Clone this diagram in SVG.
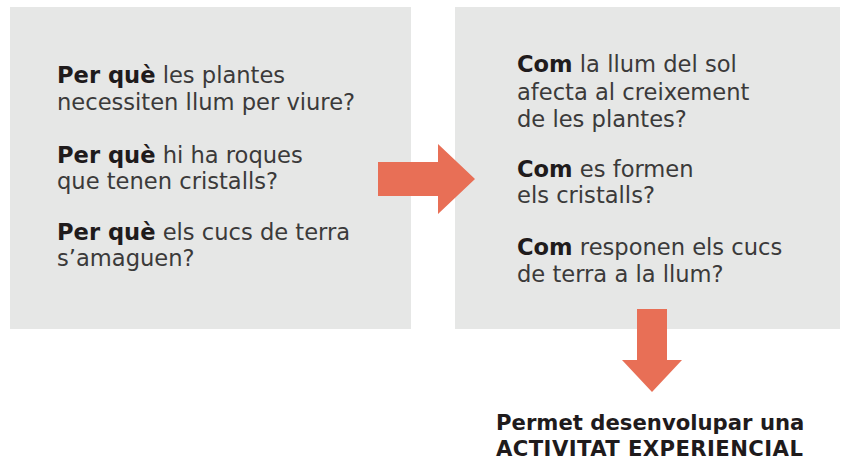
<svg xmlns="http://www.w3.org/2000/svg" width="841" height="460" viewBox="0 0 841 460">
  <style>
    .box { fill: #e6e7e6; }
    .arrow { fill: #e86f56; }
    .q { font-family: "DejaVu Sans", "Open Sans", sans-serif; font-size: 22.6px; fill: #3b3a3a; }
    .b { font-weight: bold; fill: #1f1b1c; }
    .res { font-family: "DejaVu Sans", "Open Sans", sans-serif; font-size: 21.2px; font-weight: bold; fill: #1f1b1c; }
  </style>
  <rect width="841" height="460" fill="#ffffff"/>
  <g id="node-perque">
    <rect class="box" x="10" y="7" width="401" height="322"/>
    <text class="q" x="57" y="83"><tspan class="b">Per què</tspan> les plantes</text>
    <text class="q" x="57" y="110">necessiten llum per viure?</text>
    <text class="q" x="57" y="163"><tspan class="b">Per què</tspan> hi ha roques</text>
    <text class="q" x="57" y="189">que tenen cristalls?</text>
    <text class="q" x="57" y="240"><tspan class="b">Per què</tspan> els cucs de terra</text>
    <text class="q" x="57" y="266">s’amaguen?</text>
  </g>
  <g id="node-com">
    <rect class="box" x="455" y="7" width="385" height="322"/>
    <text class="q" x="517" y="72"><tspan class="b">Com</tspan> la llum del sol</text>
    <text class="q" x="517" y="100">afecta al creixement</text>
    <text class="q" x="517" y="127">de les plantes?</text>
    <text class="q" x="517" y="177"><tspan class="b">Com</tspan> es formen</text>
    <text class="q" x="517" y="203">els cristalls?</text>
    <text class="q" x="517" y="255"><tspan class="b">Com</tspan> responen els cucs</text>
    <text class="q" x="517" y="282">de terra a la llum?</text>
  </g>
  <g id="node-activitat">
    <text class="res" x="496" y="430">Permet desenvolupar una</text>
    <text class="res" x="496" y="456" letter-spacing="0.4">ACTIVITAT EXPERIENCIAL</text>
  </g>
  <g id="connectors">
    <polygon class="arrow" points="378,162 438,162 438,144 475,179 438,214 438,196 378,196"/>
    <polygon class="arrow" points="637,309 667,309 667,360 682,360 652,392 622,360 637,360"/>
  </g>
</svg>
